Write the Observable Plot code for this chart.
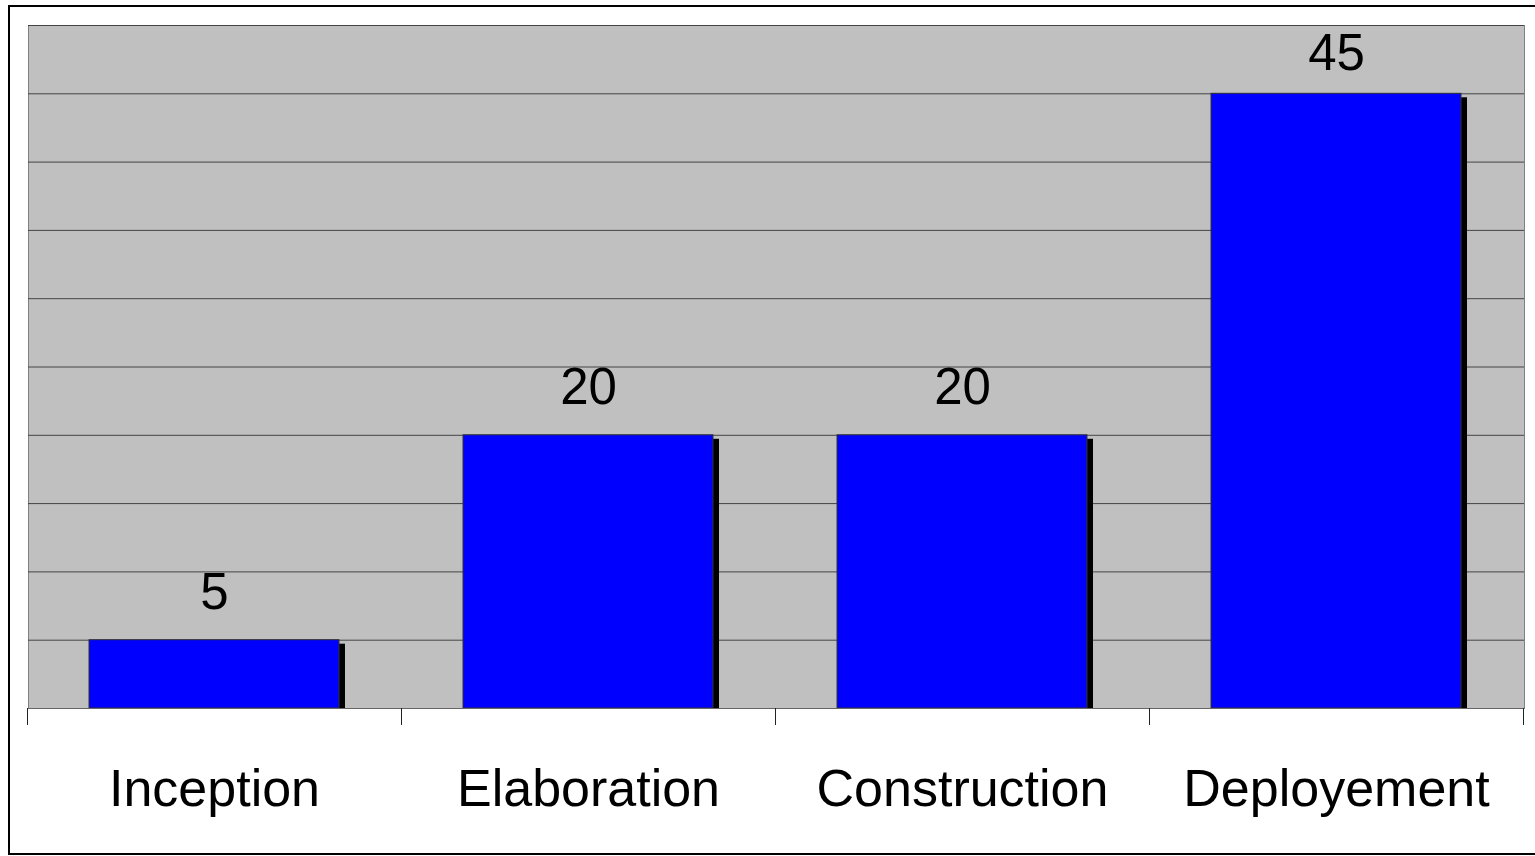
<!DOCTYPE html>
<html>
<head>
<meta charset="utf-8">
<script src="https://cdn.jsdelivr.net/npm/d3@7"></script>
<script src="https://cdn.jsdelivr.net/npm/@observablehq/plot@0.6"></script>
<style>
  html, body { margin: 0; padding: 0; background: #ffffff; overflow: hidden; }
  #wrap { position: relative; width: 1535px; height: 856px; }
  #border { position: absolute; left: 8px; top: 5px; width: 1540px; height: 846px; border: 2px solid #000; pointer-events: none; }
  svg { display: block; }
</style>
</head>
<body>
<div id="wrap"><div id="chart"></div><div id="border"></div></div>
<script>
const categories = ["Inception", "Elaboration", "Construction", "Deployement"];
const values = [5, 20, 20, 45];
const yTicks = [0, 5, 10, 15, 20, 25, 30, 35, 40, 45, 50];

const data = categories.map((c, i) => ({cat: c, value: values[i]}));

const W = 1535, H = 856, mL = 28, mR = 11, mT = 25, mB = 148;
const step = (W - mL - mR) / categories.length;
const plotH = H - mT - mB;
const tickLen = 17;
const yMax = 50;
const labelGap = 31, labelCap = 37, labelTopPad = 8;
const pxPerUnit = plotH / yMax;
const fits = d => d.value + (labelGap + labelCap + labelTopPad) / pxPerUnit <= yMax;

const chart = Plot.plot({
  width: W,
  height: H,
  marginLeft: mL,
  marginRight: mR,
  marginTop: mT,
  marginBottom: mB,
  style: {fontFamily: "'Liberation Sans', Arial, sans-serif", background: "transparent", color: "#000", overflow: "visible"},
  x: {domain: categories, paddingInner: 0.3316, paddingOuter: 0.1658, align: 0.49, label: null},
  y: {domain: [0, yMax], axis: null},
  marks: [
    Plot.frame({fill: "#c0c0c0", stroke: "#808080"}),
    Plot.gridY(yTicks, {stroke: "#444", strokeOpacity: 1}),
    Plot.barY(data, {x: "cat", y: "value", fill: "#000", dx: 6, dy: 4, insetBottom: 4}),
    Plot.barY(data, {x: "cat", y: "value", fill: "#0000ff", stroke: "#333", strokeWidth: 1}),
    Plot.text(data.filter(fits), {x: "cat", y: "value", text: d => String(d.value), lineAnchor: "bottom", dy: -labelGap, fontSize: 51, fill: "#000"}),
    Plot.text(data.filter(d => !fits(d)), {x: "cat", text: d => String(d.value), frameAnchor: "top", lineAnchor: "top", dy: labelTopPad, fontSize: 51, fill: "#000"}),
    Plot.axisX({tickSize: 0, tickPadding: 61, fontSize: 52, label: null}),
    Plot.ruleY([0], {stroke: "#666"}),
    Plot.ruleX(categories, {dx: -step / 2, insetTop: plotH - tickLen, dy: tickLen, stroke: "#222"}),
    Plot.ruleX([categories[categories.length - 1]], {dx: step / 2, insetTop: plotH - tickLen, dy: tickLen, stroke: "#222"})
  ]
});
document.getElementById("chart").appendChild(chart);
</script>
</body>
</html>
